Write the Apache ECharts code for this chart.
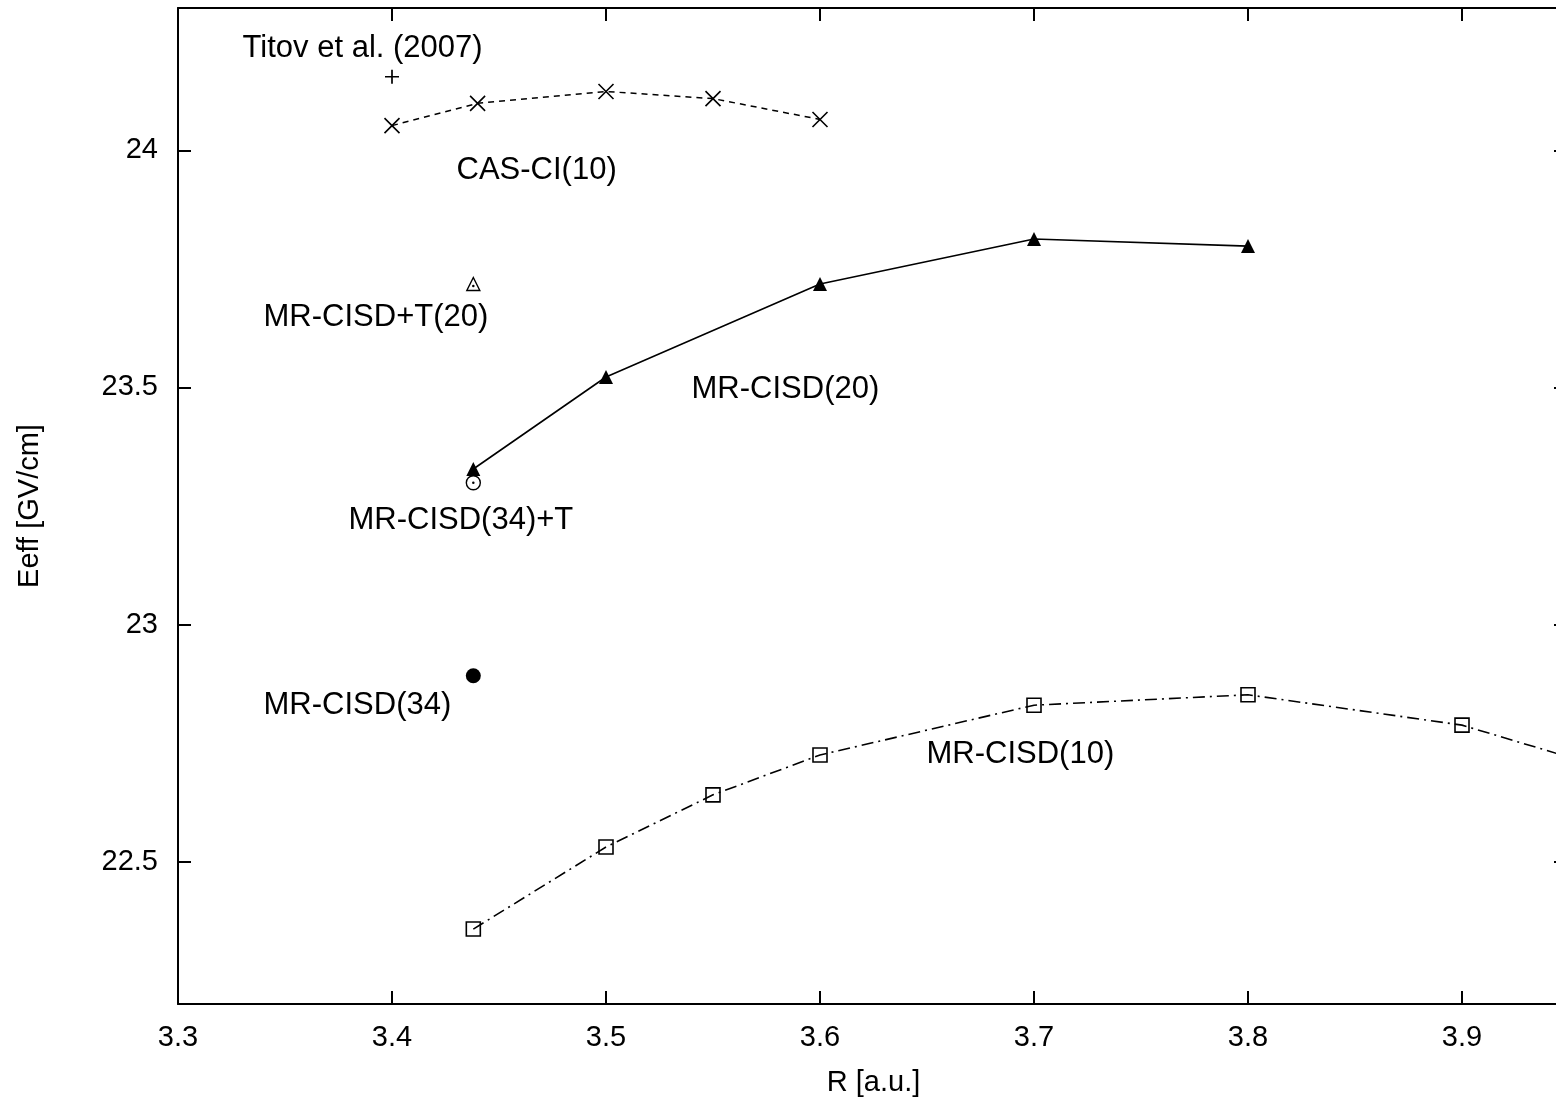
<!DOCTYPE html>
<html>
<head>
<meta charset="utf-8">
<script src="https://cdn.jsdelivr.net/npm/echarts@6/dist/echarts.min.js"></script>
<style>
  html, body { margin: 0; padding: 0; background: #fff; }
  #main { width: 1556px; height: 1103px; }
</style>
</head>
<body>
<div id="main"></div>
<script>
// chart instance
var myChart = echarts.init(document.getElementById('main'));

// tick values
var xTicks = [3.3, 3.4, 3.5, 3.6, 3.7, 3.8, 3.9];
var yTicks = [22.5, 23, 23.5, 24];

// data: [R, Eeff]
var casci10 = [[3.4, 24.052], [3.44, 24.099], [3.5, 24.124], [3.55, 24.109], [3.6, 24.065]];
var titov = [[3.4, 24.155]];
var mrcisd20 = [[3.438, 23.328], [3.5, 23.522], [3.6, 23.718], [3.7, 23.813], [3.8, 23.798]];
var mrcisdT20 = [[3.438, 23.718]];
var mrcisd34T = [[3.438, 23.299]];
var mrcisd34 = [[3.438, 22.892]];
var mrcisd10 = [[3.438, 22.358], [3.5, 22.531], [3.55, 22.641], [3.6, 22.725], [3.7, 22.830],
                [3.8, 22.852], [3.9, 22.788], [4.0, 22.653]];

// text labels: [x, y, text]
var notes = [
  [3.3304, 24.214, 'Titov et al. (2007)'],
  [3.4304, 23.956, 'CAS-CI(10)'],
  [3.3402, 23.647, 'MR-CISD+T(20)'],
  [3.5402, 23.495, 'MR-CISD(20)'],
  [3.3799, 23.2185, 'MR-CISD(34)+T'],
  [3.3402, 22.828, 'MR-CISD(34)'],
  [3.65, 22.725, 'MR-CISD(10)']
];

var font = "'Liberation Sans', Arial, Helvetica, sans-serif";
var cross = 'path://M0,0L10,10M10,0L0,10';
var plus = 'path://M5,0L5,10M0,5L10,5';

var axisLine = { lineStyle: { color: '#000', width: 2 } };
var axisTick = { inside: true, length: 13, lineStyle: { color: '#000', width: 2 } };

var option = {
  animation: false,
  backgroundColor: '#fff',
  grid: { left: 178, top: 8, bottom: 99, right: -13, outerBoundsMode: 'none', containLabel: false },
  xAxis: [{
    type: 'value', min: 3.3, max: 3.95, position: 'bottom',
    name: 'R [a.u.]', nameLocation: 'middle', nameGap: 64,
    nameTextStyle: { fontFamily: font, fontSize: 29, color: '#000' },
    axisLine: axisLine,
    axisTick: Object.assign({ customValues: xTicks }, axisTick),
    axisLabel: { customValues: xTicks, fontFamily: font, fontSize: 29, color: '#000', margin: 19 },
    splitLine: { show: false }
  }, {
    type: 'value', min: 3.3, max: 3.95, position: 'top',
    axisLine: axisLine,
    axisTick: Object.assign({ customValues: xTicks }, axisTick),
    axisLabel: { show: false },
    splitLine: { show: false }
  }],
  yAxis: [{
    type: 'value', min: 22.2, max: 24.3, position: 'left',
    name: 'Eeff [GV/cm]', nameLocation: 'middle', nameGap: 134,
    nameTextStyle: { fontFamily: font, fontSize: 29, color: '#000' },
    axisLine: axisLine,
    axisTick: Object.assign({ customValues: yTicks }, axisTick),
    axisLabel: { customValues: yTicks, fontFamily: font, fontSize: 29, color: '#000', margin: 20 },
    splitLine: { show: false }
  }, {
    type: 'value', min: 22.2, max: 24.3, position: 'right',
    axisLine: axisLine,
    axisTick: { customValues: yTicks, inside: true, length: 15, lineStyle: { color: '#000', width: 2 } },
    axisLabel: { show: false },
    splitLine: { show: false }
  }],
  series: [
    {
      name: 'CAS-CI(10)', type: 'line', data: casci10,
      symbol: cross, symbolSize: 15,
      itemStyle: { color: 'transparent', borderColor: '#000', borderWidth: 1.6 },
      lineStyle: { color: '#000', width: 1.5, type: [6, 5] }
    },
    {
      name: 'Titov', type: 'scatter', data: titov,
      symbol: plus, symbolSize: 14,
      itemStyle: { color: 'transparent', borderColor: '#000', borderWidth: 1.7, opacity: 1 }
    },
    {
      name: 'MR-CISD(20)', type: 'line', data: mrcisd20,
      symbol: 'triangle', symbolSize: 14,
      itemStyle: { color: '#000' },
      lineStyle: { color: '#000', width: 1.6 }
    },
    {
      name: 'MR-CISD+T(20)', type: 'scatter', data: mrcisdT20,
      symbol: 'triangle', symbolSize: 13,
      itemStyle: { color: '#fff', borderColor: '#000', borderWidth: 1.4, opacity: 1 }
    },
    {
      name: 'MR-CISD+T(20) dot', type: 'scatter', data: mrcisdT20,
      symbol: 'circle', symbolSize: 2.5, symbolOffset: [0, 2],
      itemStyle: { color: '#000', opacity: 1 }
    },
    {
      name: 'MR-CISD(34)+T', type: 'scatter', data: mrcisd34T,
      symbol: 'circle', symbolSize: 14,
      itemStyle: { color: '#fff', borderColor: '#000', borderWidth: 1.4, opacity: 1 }
    },
    {
      name: 'MR-CISD(34)+T dot', type: 'scatter', data: mrcisd34T,
      symbol: 'circle', symbolSize: 2.5,
      itemStyle: { color: '#000', opacity: 1 }
    },
    {
      name: 'MR-CISD(34)', type: 'scatter', data: mrcisd34,
      symbol: 'circle', symbolSize: 15,
      itemStyle: { color: '#000', opacity: 1 }
    },
    {
      name: 'MR-CISD(10)', type: 'line', data: mrcisd10,
      symbol: 'rect', symbolSize: 14,
      itemStyle: { color: 'transparent', borderColor: '#000', borderWidth: 1.6 },
      lineStyle: { color: '#000', width: 1.6, type: [12, 5, 2, 5] }
    },
    {
      name: 'notes', type: 'scatter', data: notes,
      symbol: 'circle', symbolSize: 1,
      itemStyle: { color: 'transparent', opacity: 1 },
      label: {
        show: true, position: [0, 0], align: 'left', verticalAlign: 'middle',
        fontFamily: font, fontSize: 31, color: '#000',
        formatter: function (p) { return p.data[2]; }
      },
      z: 5
    }
  ]
};

myChart.setOption(option);
</script>
</body>
</html>
